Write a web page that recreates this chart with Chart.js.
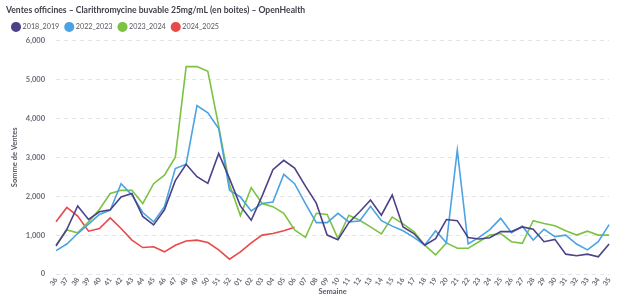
<!DOCTYPE html>
<html lang="fr">
<head>
<meta charset="utf-8">
<title>Ventes officines – Clarithromycine buvable</title>
<script src="https://cdn.jsdelivr.net/npm/chart.js@4.4.1/dist/chart.umd.min.js"></script>
<style>
    html, body { margin: 0; padding: 0; background: #fff; }
    .chart-box { position: relative; width: 618px; height: 297px; }
</style>
</head>
<body>
<div class="chart-box"><canvas id="salesChart"></canvas></div>
<script>
// ── Data ─────────────────────────────────────
const weeks = ['36','37','38','39','40','41','42','43','44','45','46','47','48','49','50','51','52',
               '01','02','03','04','05','06','07','08','09','10','11','12','13','14','15','16','17',
               '18','19','20','21','22','23','24','25','26','27','28','29','30','31','32','33','34','35'];

const s2018_2019 = [720, 1150, 1750, 1400, 1600, 1650, 1980, 2070, 1480, 1260, 1650, 2400, 2820, 2500, 2330, 3100, 2450,
                    1750, 1380, 2000, 2680, 2920, 2720, 2260, 1820, 1000, 880, 1320, 1600, 1900, 1510, 2030, 1210, 1040,
                    740, 910, 1400, 1370, 940, 900, 930, 1090, 1090, 1210, 1150, 830, 890, 510, 470, 510, 440, 770];

const s2022_2023 = [600, 770, 1040, 1280, 1530, 1640, 2320, 2030, 1580, 1340, 1730, 2710, 2820, 4330, 4140, 3740, 2150,
                    1980, 1620, 1810, 1850, 2560, 2320, 1810, 1320, 1320, 1560, 1340, 1360, 1740, 1370, 1230, 1110, 940,
                    740, 1110, 800, 3180, 770, 940, 1140, 1430, 1060, 1230, 870, 1150, 960, 1000, 770, 620, 830, 1270];

const s2023_2024 = [740, 1130, 1060, 1340, 1660, 2070, 2150, 2150, 1810, 2320, 2540, 3000, 5330, 5330, 5210, 3800, 2300,
                    1500, 2220, 1810, 1730, 1560, 1130, 940, 1560, 1530, 910, 1510, 1380, 1210, 1030, 1460, 1290, 1090,
                    740, 490, 800, 660, 660, 830, 1000, 1040, 830, 790, 1370, 1300, 1240, 1110, 1000, 1100, 1000, 1000];

const s2024_2025 = [1340, 1710, 1490, 1100, 1170, 1440, 1170, 870, 680, 700, 570, 740, 850, 870, 810, 620, 380,
                    570, 800, 1000, 1040, 1110, 1200];

const yTicks = [0, 1000, 2000, 3000, 4000, 5000, 6000];

// ── Styles ───────────────────────────────────
const palette = {
    s2018: '#4b4287',
    s2022: '#4ba3e3',
    s2023: '#7cc243',
    s2024: '#e84a4a',
};
const axisText = '#5a5a66';

Chart.defaults.font.family = "'Lato', 'Noto Sans', sans-serif";
Chart.defaults.color       = axisText;

function series(label, data, color) {
    return {
        label,
        data,
        borderColor: color,
        backgroundColor: color,
        borderWidth: 1.6,
        pointRadius: 0,
        pointHoverRadius: 3,
        tension: 0,
        fill: false,
    };
}

// ── Line Chart — weekly sales ────────────────
new Chart(document.getElementById('salesChart'), {
    type: 'line',
    data: {
        labels: weeks,
        datasets: [
            series('2018_2019', s2018_2019, palette.s2018),
            series('2022_2023', s2022_2023, palette.s2022),
            series('2023_2024', s2023_2024, palette.s2023),
            series('2024_2025', s2024_2025, palette.s2024),
        ]
    },
    options: {
        responsive: true,
        maintainAspectRatio: false,
        animation: false,
        layout: { padding: { left: 6, right: 4, top: 0, bottom: 1 } },
        plugins: {
            title: {
                display: true,
                text: 'Ventes officines – Clarithromycine buvable 25mg/mL (en boites) – OpenHealth',
                align: 'start',
                color: '#3f3f4a',
                font: { size: 8.6, weight: 'bold' },
                padding: { top: 5, bottom: 1 }
            },
            legend: {
                display: true,
                position: 'top',
                align: 'start',
                labels: {
                    usePointStyle: true,
                    pointStyle: 'circle',
                    boxWidth: 6,
                    boxHeight: 6,
                    padding: 7,
                    color: '#55555f',
                    font: { size: 7.2 }
                }
            },
            tooltip: { enabled: true }
        },
        scales: {
            x: {
                offset: false,
                afterFit: (axis) => { axis.height = 22; },
                grid: { display: false, drawTicks: false },
                border: { display: false },
                ticks: {
                    autoSkip: false,
                    minRotation: 55,
                    maxRotation: 55,
                    padding: 2,
                    font: { size: 7, weight: 'bold' },
                    color: '#6a6a76'
                },
                title: {
                    display: true,
                    text: 'Semaine',
                    color: axisText,
                    font: { size: 7.5, weight: 'bold' },
                    padding: { top: 0, bottom: 0 }
                }
            },
            y: {
                min: 0,
                max: 6000,
                afterBuildTicks: (axis) => { axis.ticks = yTicks.map(v => ({ value: v })); },
                afterFit: (axis) => { axis.width = 50; },
                grid: { color: '#e3e3e8', drawTicks: false },
                border: { display: false, dash: [4, 4] },
                ticks: {
                    padding: 11,
                    font: { size: 7.5, weight: 'bold' },
                    color: '#6a6a76',
                    callback: (v) => v.toLocaleString('en-US')
                },
                title: {
                    display: true,
                    text: 'Somme de Ventes',
                    color: axisText,
                    font: { size: 7.5, weight: 'bold' },
                    padding: { top: 4, bottom: 4 }
                }
            }
        }
    }
});
</script>
</body>
</html>
